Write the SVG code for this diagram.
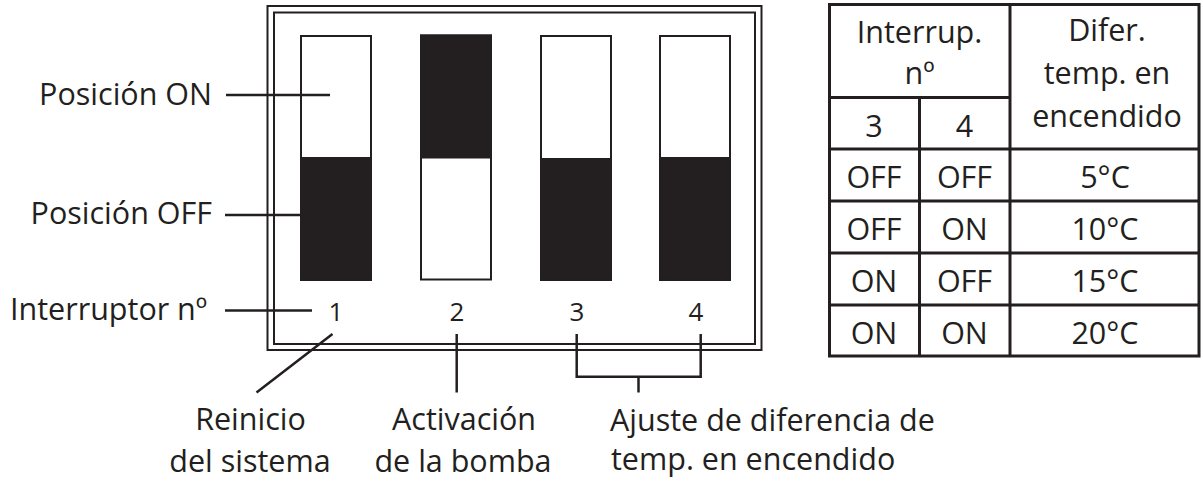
<svg xmlns="http://www.w3.org/2000/svg" width="1203" height="487" viewBox="0 0 1203 487">
<style>
.t{font-family:"Open Sans","Liberation Sans",sans-serif;font-size:30.5px;fill:#231f20}
.n{font-family:"Open Sans","Liberation Sans",sans-serif;font-size:26px;fill:#231f20;text-anchor:middle}
.m{text-anchor:middle}
.e{text-anchor:end}
.ln{stroke:#231f20;stroke-width:2.5;fill:none}
.fr{stroke:#231f20;stroke-width:2;fill:none}
.sw{stroke:#231f20;stroke-width:2;fill:#fff}
.blk{fill:#231f20}
.tb{stroke:#231f20;stroke-width:3;fill:none}
</style>
<rect width="1203" height="487" fill="#fff"/>
<g id="frame">
<rect class="fr" x="267.5" y="6" width="494" height="344"/>
<rect class="fr" x="274" y="12.5" width="481" height="331.5"/>
</g>
<g id="switch1">
<rect class="sw" x="301" y="36" width="70" height="244"/>
<rect class="blk" x="300" y="157" width="72" height="124"/>
<text class="n" x="336" y="321">1</text>
</g>
<g id="switch2">
<rect class="sw" x="421" y="35.5" width="70" height="244"/>
<rect class="blk" x="420" y="34.5" width="72" height="124"/>
<text class="n" x="457" y="321">2</text>
</g>
<g id="switch3">
<rect class="sw" x="541" y="36" width="70" height="244"/>
<rect class="blk" x="540" y="158" width="72" height="123"/>
<text class="n" x="577" y="321">3</text>
</g>
<g id="switch4">
<rect class="sw" x="660" y="36" width="70" height="244"/>
<rect class="blk" x="659" y="157" width="72" height="124"/>
<text class="n" x="696" y="321">4</text>
</g>
<g id="labels">
<text class="t e" x="212" y="105">Posición ON</text>
<text class="t e" x="212" y="224">Posición OFF</text>
<text class="t" x="10" y="320">Interruptor nº</text>
<text class="t m" x="250.5" y="430">Reinicio</text>
<text class="t m" x="250" y="472">del sistema</text>
<text class="t m" x="464" y="430">Activación</text>
<text class="t m" x="463" y="472">de la bomba</text>
<text class="t" x="610" y="431">Ajuste de diferencia de</text>
<text class="t" x="611" y="470">temp. en encendido</text>
</g>
<g id="connectors">
<line class="ln" x1="226" y1="95" x2="330" y2="95"/>
<line class="ln" x1="225" y1="215" x2="301" y2="215"/>
<line class="ln" x1="225" y1="310.5" x2="312" y2="310.5"/>
<line class="ln" x1="332.5" y1="334" x2="256.5" y2="392.5"/>
<line class="ln" x1="456.7" y1="334" x2="456.7" y2="392.5"/>
<polyline class="ln" points="576.7,334 576.7,376.7 700.7,376.7 700.7,334"/>
<line class="ln" x1="638.5" y1="376.7" x2="638.5" y2="392.5"/>
</g>
<g id="table">
<rect class="tb" x="829.5" y="4.5" width="369.5" height="351.5"/>
<line class="tb" x1="1010" y1="4.5" x2="1010" y2="356"/>
<line class="tb" x1="919.5" y1="97.5" x2="919.5" y2="356"/>
<line class="tb" x1="829.5" y1="97.5" x2="1010" y2="97.5"/>
<line class="tb" x1="829.5" y1="149" x2="1199" y2="149"/>
<line class="tb" x1="829.5" y1="201" x2="1199" y2="201"/>
<line class="tb" x1="829.5" y1="253" x2="1199" y2="253"/>
<line class="tb" x1="829.5" y1="305" x2="1199" y2="305"/>
<text class="t m" x="919.5" y="42.5">Interrup.</text>
<text class="t m" x="919.5" y="84">nº</text>
<text class="t m" x="874" y="136.5">3</text>
<text class="t m" x="964.5" y="136.5">4</text>
<text class="t m" x="1107" y="40.5">Difer.</text>
<text class="t m" x="1107" y="83.5">temp. en</text>
<text class="t m" x="1107" y="126.5">encendido</text>
<text class="t m" x="874" y="188">OFF</text>
<text class="t m" x="964.5" y="188">OFF</text>
<text class="t m" x="1105" y="188">5°C</text>
<text class="t m" x="874" y="240">OFF</text>
<text class="t m" x="964.5" y="240">ON</text>
<text class="t m" x="1105" y="240">10°C</text>
<text class="t m" x="874" y="292">ON</text>
<text class="t m" x="964.5" y="292">OFF</text>
<text class="t m" x="1105" y="292">15°C</text>
<text class="t m" x="874" y="343.5">ON</text>
<text class="t m" x="964.5" y="343.5">ON</text>
<text class="t m" x="1105" y="343.5">20°C</text>
</g>
</svg>
